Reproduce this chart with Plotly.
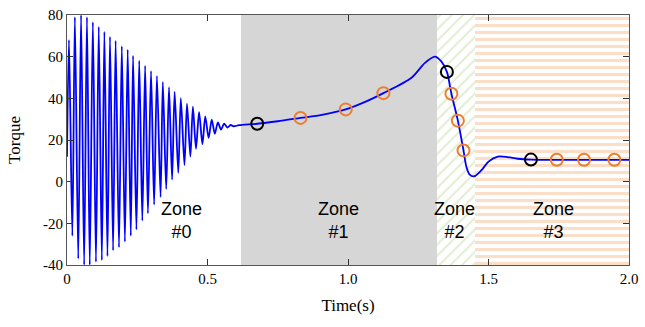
import plotly.graph_objects as go

# ---- data ----
# oscillation in zone 0 (start, then alternating peaks / troughs)
osc_t = [0.000, 0.007, 0.019, 0.028, 0.040, 0.050, 0.061, 0.071, 0.081, 0.092, 0.103,
         0.113, 0.124, 0.133, 0.144, 0.153, 0.164, 0.173, 0.185, 0.195, 0.206,
         0.216, 0.227, 0.235, 0.247, 0.257, 0.268, 0.278, 0.288, 0.299, 0.310,
         0.320, 0.333, 0.341, 0.353, 0.363, 0.374, 0.383, 0.396, 0.405, 0.418,
         0.427, 0.439, 0.448, 0.459, 0.470, 0.482, 0.492, 0.504, 0.515, 0.526,
         0.537, 0.548, 0.559, 0.571, 0.582, 0.593]
osc_v = [12, 68, -26, 79, -37, 80, -40, 79, -40, 76.6, -38.5,
         74.3, -37.7, 72, -35.8, 69.6, -33, 67.7, -31.5, 65, -28.8,
         63.4, -26, 60.5, -23, 58.1, -18.7, 55.7, -15.2, 53.1, -11,
         50.7, -7.4, 47.9, -3.6, 45.4, 1, 43.2, 4.2, 40.1, 8,
         37.5, 12, 36, 15.8, 33.4, 18, 31.3, 21, 29.8, 23,
         28.5, 25, 27.8, 26, 27.2, 26.6]
# smooth response in zones 1-3
trend_t = [0.612, 0.677, 0.75, 0.831, 0.907, 0.992, 1.061, 1.126, 1.226, 1.273, 1.309,
           1.332, 1.352, 1.368, 1.391, 1.411, 1.421, 1.433, 1.450, 1.475, 1.500, 1.533,
           1.568, 1.604, 1.651, 1.75, 1.85, 2.0]
trend_v = [27.1, 27.8, 29.0, 30.6, 32.1, 34.7, 38.3, 42.5, 49.9, 56.9, 60.0,
           57.7, 52.7, 42.2, 29.3, 15.0, 7.3, 3.4, 2.6, 5.5, 9.6, 12.0,
           11.8, 11.0, 10.6, 10.5, 10.5, 10.5]

black_t = [0.677, 1.352, 1.651]
black_v = [27.8, 52.7, 10.6]
orange_t = [0.831, 0.992, 1.126, 1.368, 1.391, 1.411, 1.743, 1.840, 1.948]
orange_v = [30.6, 34.7, 42.5, 42.2, 29.3, 15.0, 10.5, 10.5, 10.5]

zone_edges = [0.619, 1.317, 1.451, 2.0]
zone_labels = ["Zone<br>#0", "Zone<br>#1", "Zone<br>#2", "Zone<br>#3"]
zone_label_t = [0.407, 0.966, 1.379, 1.733]
zone_label_v = [-18.5, -18.5, -18.5, -18.5]

x_ticks = [0, 0.5, 1.0, 1.5, 2.0]
x_ticktext = ["0", "0.5", "1.0", "1.5", "2.0"]
y_ticks = [-40, -20, 0, 20, 40, 60, 80]
y_ticktext = ["-40", "-20", "0", "20", "40", "60", "80"]
y_range = [-40, 80]

fig = go.Figure()

# zone backgrounds
zone_styles = [
    dict(color="#d6d6d6"),
    dict(color="white", pattern=dict(shape="/", fgcolor="#c4dca4", size=8, solidity=0.25, fillmode="overlay")),
    dict(color="white", pattern=dict(shape="-", fgcolor="#f8bd92", size=7, solidity=0.45, fillmode="overlay")),
]
for i, st in enumerate(zone_styles):
    a, b = zone_edges[i], zone_edges[i + 1]
    fig.add_trace(go.Bar(
        x=[(a + b) / 2], y=[y_range[1] - y_range[0]], base=[y_range[0]], width=[b - a],
        marker=dict(line=dict(width=0), **st), showlegend=False, hoverinfo="skip"))

fig.add_trace(go.Scatter(x=osc_t + trend_t, y=osc_v + trend_v, mode="lines",
                         line=dict(color="#0000ff", width=1.8, shape="spline", smoothing=0.8),
                         showlegend=False))
fig.add_trace(go.Scatter(x=black_t, y=black_v, mode="markers",
                         marker=dict(symbol="circle-open", size=12, color="black", line=dict(width=2)),
                         showlegend=False))
fig.add_trace(go.Scatter(x=orange_t, y=orange_v, mode="markers",
                         marker=dict(symbol="circle-open", size=12, color="#ed7d31", line=dict(width=2)),
                         showlegend=False))

for t, v, s in zip(zone_label_t, zone_label_v, zone_labels):
    fig.add_annotation(x=t, y=v, text=s, showarrow=False,
                       font=dict(family="Liberation Sans", size=18, color="black"))

tickfont = dict(family="Liberation Serif", size=15, color="black")
titlefont = dict(family="Liberation Serif", size=17, color="black")
fig.update_layout(
    width=645, height=327, margin=dict(l=67, r=13, t=7, b=62),
    plot_bgcolor="white", paper_bgcolor="white", barmode="overlay", bargap=0,
    font=dict(family="Liberation Serif", size=15, color="black"),
)
fig.update_xaxes(range=[0, 2.0], tickvals=x_ticks, ticktext=x_ticktext, ticks="inside", ticklen=6,
                 tickcolor="#333", tickfont=tickfont, showline=True, linecolor="#555", linewidth=1,
                 mirror="ticks", showgrid=False, zeroline=False,
                 title=dict(text="Time(s)", standoff=13, font=titlefont))
fig.update_yaxes(range=y_range, tickvals=y_ticks, ticktext=y_ticktext, ticks="inside", ticklen=6,
                 tickcolor="#333", tickfont=tickfont, showline=True, linecolor="#555", linewidth=1,
                 mirror="ticks", showgrid=False, zeroline=False,
                 title=dict(text="Torque", standoff=18, font=titlefont))

fig.write_html("out.html")
